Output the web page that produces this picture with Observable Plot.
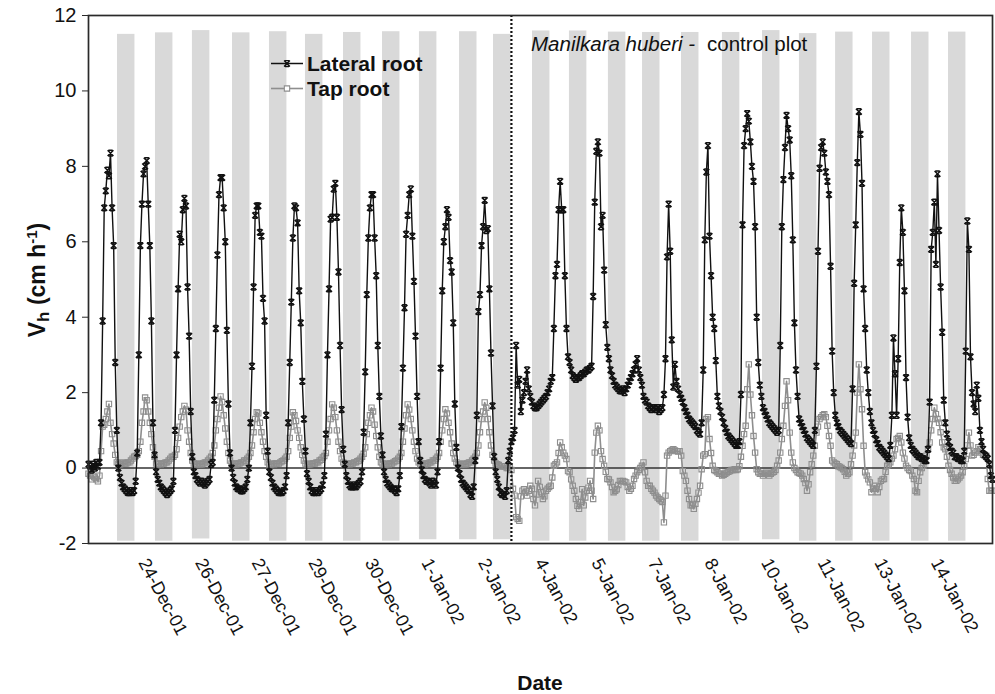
<!DOCTYPE html>
<html><head><meta charset="utf-8">
<script src="https://cdn.jsdelivr.net/npm/d3@7"></script>
<script src="https://cdn.jsdelivr.net/npm/@observablehq/plot@0.6"></script>
<style>
html,body{margin:0;padding:0;background:#fff;}
#chart{width:995px;height:694px;}
</style></head><body><div id="chart"></div>
<script>
// Hourly sap-flow velocity, hours since 23-Dec-01 00:00
const lateral = [
// 23-Dec
0.1,0.05,-0.05,0.1,0.0,0.15,0.05,0.15,1.2,3.9,6.9,7.35,7.9,7.75,8.35,6.9,5.9,2.8,1.0,0.0,-0.25,-0.4,-0.5,-0.55,
// 24-Dec
-0.6,-0.65,-0.65,-0.6,-0.65,-0.6,-0.35,0.4,3.0,5.9,7.0,7.8,8.0,8.15,7.0,5.9,3.9,1.2,0.35,-0.1,-0.3,-0.4,-0.5,-0.55,
// 25-Dec
-0.6,-0.65,-0.7,-0.65,-0.6,-0.55,-0.35,1.0,3.0,4.75,6.2,6.0,6.85,7.15,6.95,4.8,3.5,1.5,0.3,-0.1,-0.2,-0.3,-0.35,-0.4,
// 26-Dec
-0.35,-0.4,-0.45,-0.4,-0.35,-0.3,0.1,0.15,1.8,3.7,5.65,7.25,7.7,7.7,6.9,6.0,3.65,1.7,0.4,0.0,-0.25,-0.4,-0.5,-0.55,
// 27-Dec
-0.55,-0.6,-0.6,-0.55,-0.5,-0.3,0.0,1.2,2.7,4.8,6.7,6.95,6.95,6.25,6.15,4.5,3.9,1.4,0.45,-0.1,-0.25,-0.4,-0.5,-0.55,
// 28-Dec
-0.6,-0.65,-0.65,-0.65,-0.6,-0.5,-0.2,1.2,2.8,4.4,6.1,6.95,6.9,6.5,4.7,3.85,2.3,1.3,0.45,-0.15,-0.35,-0.5,-0.6,-0.65,
// 29-Dec
-0.65,-0.6,-0.65,-0.6,-0.55,-0.45,-0.2,0.9,3.0,4.75,6.6,6.65,7.4,7.55,6.65,5.2,3.25,1.55,0.5,0.1,-0.2,-0.35,-0.45,-0.5,
// 30-Dec
-0.5,-0.45,-0.5,-0.45,-0.4,-0.35,-0.1,0.95,2.55,4.6,6.1,6.9,7.25,7.25,6.1,5.1,3.25,1.9,0.85,0.35,-0.1,-0.3,-0.4,-0.45,
// 31-Dec
-0.5,-0.55,-0.55,-0.6,-0.65,-0.55,-0.2,1.1,2.65,4.25,6.2,6.7,7.25,7.4,6.15,4.95,3.5,1.9,0.7,0.2,-0.05,-0.2,-0.3,-0.35,
// 1-Jan
-0.35,-0.4,-0.45,-0.35,-0.4,-0.45,-0.1,0.7,2.65,4.7,6.0,6.4,6.85,6.65,5.5,5.2,3.85,1.7,0.55,0.0,-0.15,-0.3,-0.4,-0.45,
// 2-Jan
-0.5,-0.55,-0.6,-0.7,-0.75,-0.5,0.2,1.4,4.15,4.6,5.9,6.4,7.1,6.3,6.35,4.75,3.05,1.65,0.3,-0.1,-0.3,-0.5,-0.65,-0.7,
// 3-Jan
-0.7,-0.75,-0.6,0.2,0.45,0.7,0.8,1.0,3.25,2.2,2.35,1.5,1.8,2.0,2.3,2.6,2.1,1.9,1.75,1.65,1.6,1.6,1.65,1.7,
// 4-Jan
1.75,1.8,1.85,1.9,2.0,2.1,2.3,2.4,3.7,5.1,5.4,6.85,7.6,6.85,6.85,5.1,3.7,2.95,2.8,2.6,2.45,2.4,2.35,2.4,
// 5-Jan
2.4,2.45,2.5,2.5,2.55,2.6,2.6,2.65,2.7,4.55,7.05,8.4,8.65,8.35,6.4,6.7,5.25,3.8,3.2,2.9,2.6,2.45,2.3,2.2,
// 6-Jan
2.15,2.1,2.05,2.05,2.1,2.0,2.1,2.2,2.3,2.4,2.5,2.6,2.75,2.9,2.6,2.4,2.2,1.9,1.8,1.75,1.65,1.6,1.55,1.6,
// 7-Jan
1.6,1.55,1.6,1.5,1.55,1.6,1.95,2.9,5.6,7.0,5.75,3.4,2.15,2.75,2.3,2.1,1.95,1.85,1.75,1.6,1.5,1.4,1.3,1.25,
// 8-Jan
1.2,1.15,1.1,1.0,0.95,0.9,1.2,2.6,6.05,7.85,8.55,6.15,5.1,4.0,3.7,2.85,1.9,1.65,1.5,1.35,1.2,1.05,0.95,0.85,
// 9-Jan
0.8,0.75,0.7,0.65,0.6,0.6,0.7,1.95,6.45,8.55,9.0,9.4,9.2,8.65,8.0,7.6,6.4,4.0,2.8,2.2,1.9,1.6,1.5,1.4,
// 10-Jan
1.3,1.2,1.15,1.1,1.05,1.0,0.95,1.0,3.25,6.4,7.65,8.5,9.35,9.0,8.7,7.75,6.05,3.85,2.6,1.9,1.3,1.2,1.1,1.0,
// 11-Jan
0.9,0.8,0.75,0.7,0.65,0.6,1.0,2.7,5.75,7.95,8.5,8.65,8.35,7.85,7.6,7.25,5.35,3.1,2.0,1.4,1.2,1.1,1.0,0.95,
// 12-Jan
0.9,0.85,0.8,0.75,0.7,0.65,2.1,4.9,6.45,8.1,9.45,8.85,7.55,4.75,3.7,2.6,2.0,1.5,1.2,1.0,0.9,0.75,0.65,0.55,
// 13-Jan
0.5,0.45,0.4,0.35,0.3,0.25,0.6,1.4,3.45,2.5,1.4,2.9,5.45,6.9,6.25,4.7,2.4,1.35,0.8,0.6,0.5,0.45,0.4,0.35,
// 14-Jan
0.3,0.3,0.25,0.25,0.2,0.2,0.5,1.75,5.8,6.25,7.05,5.4,7.8,6.3,4.8,3.6,1.8,1.2,0.9,0.7,0.55,0.45,0.4,0.3,
// 15-Jan
0.3,0.25,0.25,0.2,0.2,0.45,3.1,6.55,5.8,2.95,2.0,1.7,1.5,2.2,1.85,1.0,0.7,0.5,0.35,0.3,0.25,0.1,-0.2,-0.3
];
const tap = [
// 23-Dec
-0.15,-0.2,-0.3,-0.2,-0.25,-0.3,-0.35,-0.2,0.45,1.1,1.15,1.3,1.5,1.7,1.2,0.9,0.65,0.35,0.15,0.1,0.1,0.12,0.15,0.12,
// 24-Dec
0.12,0.15,0.15,0.2,0.25,0.3,0.32,0.35,0.45,0.7,1.2,1.5,1.87,1.8,1.5,1.2,0.9,0.55,0.3,0.12,0.1,0.12,0.1,0.12,
// 25-Dec
0.12,0.15,0.15,0.2,0.25,0.3,0.3,0.35,0.5,0.8,1.1,1.35,1.5,1.65,1.55,1.0,0.7,0.4,0.2,0.12,0.1,0.1,0.12,0.1,
// 26-Dec
0.1,0.12,0.15,0.15,0.2,0.25,0.3,0.4,0.6,1.0,1.3,1.6,1.9,1.75,1.4,1.05,0.7,0.4,0.2,0.12,0.1,0.12,0.1,0.12,
// 27-Dec
0.12,0.15,0.15,0.2,0.2,0.25,0.3,0.4,0.6,0.95,1.3,1.48,1.45,1.2,0.95,0.7,0.45,0.3,0.15,0.1,0.1,0.12,0.1,0.12,
// 28-Dec
0.12,0.12,0.15,0.18,0.2,0.25,0.3,0.45,0.8,1.1,1.48,1.4,1.25,1.0,0.8,0.55,0.35,0.2,0.12,0.1,0.1,0.1,0.12,0.12,
// 29-Dec
0.12,0.15,0.15,0.2,0.22,0.28,0.32,0.4,0.7,1.0,1.3,1.69,1.6,1.35,1.0,0.7,0.45,0.25,0.15,0.1,0.1,0.12,0.1,0.12,
// 30-Dec
0.12,0.15,0.15,0.18,0.2,0.25,0.3,0.38,0.55,0.9,1.2,1.4,1.6,1.5,1.15,0.85,0.55,0.3,0.15,0.12,0.1,0.1,0.12,0.1,
// 31-Dec
0.12,0.12,0.15,0.18,0.2,0.25,0.3,0.4,0.7,1.05,1.4,1.69,1.55,1.3,1.0,0.7,0.45,0.25,0.15,0.1,0.1,0.12,0.1,0.12,
// 1-Jan
0.12,0.15,0.15,0.2,0.2,0.25,0.3,0.4,0.7,1.0,1.3,1.56,1.45,1.2,0.95,0.65,0.4,0.25,0.15,0.1,0.1,0.1,0.12,0.1,
// 2-Jan
0.1,0.12,0.15,0.15,0.2,0.25,0.3,0.4,0.6,0.95,1.3,1.5,1.74,1.6,1.3,0.95,0.6,0.35,0.2,0.12,0.1,0.08,0.05,0.05,
// 3-Jan
0.05,0.05,0.0,0.0,0.05,-0.05,-0.55,-0.73,-1.3,-1.35,-1.4,-0.75,-0.6,-0.56,-0.65,-0.73,-0.6,-0.47,-0.55,-0.82,-0.99,-0.7,-0.34,-0.5,
// 4-Jan
-0.64,-0.82,-0.75,-0.6,-0.55,-0.5,-0.47,-0.25,0.06,0.1,0.15,0.4,0.68,0.55,0.41,0.33,0.24,-0.08,-0.11,-0.3,-0.47,-0.6,-0.82,-1.0,
// 5-Jan
-1.08,-0.9,-0.56,-0.99,-0.78,-0.6,-0.52,-0.34,-0.6,-0.82,0.41,0.94,1.12,1.0,0.45,0.24,0.06,-0.1,-0.29,-0.3,-0.38,-0.5,-0.64,-0.6,
// 6-Jan
-0.56,-0.45,-0.34,-0.35,-0.34,-0.36,-0.38,-0.5,-0.6,-0.55,-0.47,-0.29,-0.2,-0.11,-0.05,0.0,0.06,0.15,-0.11,-0.34,-0.47,-0.47,-0.55,-0.6,
// 7-Jan
-0.65,-0.73,-0.78,-0.82,-0.86,-0.9,-1.44,-0.73,0.33,0.41,0.45,0.48,0.5,0.47,0.45,0.44,0.45,0.33,-0.08,-0.2,-0.34,-0.6,-0.82,-0.99,
// 8-Jan
-0.99,-1.08,-0.95,-0.82,-0.65,-0.47,-0.03,0.33,0.37,1.3,1.35,0.77,0.4,0.06,-0.05,-0.08,-0.11,-0.15,-0.15,-0.2,-0.18,-0.15,-0.12,-0.1,
// 9-Jan
-0.08,-0.05,-0.05,-0.03,-0.05,-0.03,0.05,0.3,0.59,0.9,1.12,2.09,2.75,1.95,1.4,0.85,0.41,-0.03,-0.11,-0.15,-0.15,-0.2,-0.15,-0.12,
// 10-Jan
-0.15,-0.2,-0.15,-0.12,-0.1,-0.05,0.06,0.2,0.41,0.77,1.12,1.65,2.3,1.8,0.94,0.41,0.15,0.0,-0.05,-0.11,-0.13,-0.15,-0.2,-0.29,
// 11-Jan
-0.4,-0.6,-0.43,-0.11,0.1,0.33,0.59,0.94,1.1,1.3,1.35,1.4,1.43,1.35,1.12,0.85,0.59,0.2,0.15,0.12,0.1,0.05,0.03,0.0,
// 12-Jan
-0.03,-0.1,-0.2,-0.15,-0.11,0.1,0.33,0.6,0.94,2.0,2.75,2.09,1.56,0.59,-0.11,-0.2,-0.3,-0.38,-0.64,-0.55,-0.47,-0.55,-0.64,-0.5,
// 13-Jan
-0.34,-0.3,-0.29,-0.1,0.06,0.1,0.15,0.25,0.33,0.5,0.77,0.8,0.85,0.68,0.41,0.25,0.06,0.0,-0.05,-0.08,-0.2,-0.29,-0.6,-0.64,
// 14-Jan
-0.34,-0.11,0.0,0.06,0.2,0.33,0.5,0.68,1.0,1.3,1.6,1.43,1.3,1.2,0.95,0.68,0.55,0.5,0.3,0.06,-0.05,-0.15,-0.25,-0.34,
// 15-Jan
-0.34,-0.3,-0.25,-0.2,-0.11,0.05,0.24,0.6,0.94,0.6,0.33,0.35,0.41,0.45,0.55,0.5,0.41,0.35,0.33,0.33,-0.29,-0.6,-0.6,-0.6
];
// Night periods (grey columns): start hour, top and bottom values
const nightStart = [18.45,42.6,66.1,91.6,115.1,138.0,162.2,187.0,210.5,236.0,257.6,282.4,305.9,330.7,352.4,377.2,403.2,428.7,452.2,475.2,498.7,523.5,547.0];
const nightTop = [11.5,11.54,11.6,11.54,11.57,11.5,11.55,11.57,11.57,11.57,11.5,11.59,11.59,11.56,11.55,11.55,11.55,11.6,11.52,11.56,11.56,11.56,11.56];
const nightBottom = [-1.94,-1.94,-1.88,-1.94,-1.94,-1.94,-1.94,-1.94,-1.9,-1.9,-1.9,-1.94,-1.94,-1.94,-1.94,-1.94,-1.94,-1.9,-1.94,-1.94,-1.94,-1.94,-1.94];
const nightLength = 11.1;
const treatmentHour = 269;
const xTickHours = [36,72,108,144,180,216,252,288,324,360,396,432,468,504,540];
const xTickLabels = ["24-Dec-01","26-Dec-01","27-Dec-01","29-Dec-01","30-Dec-01","1-Jan-02","2-Jan-02","4-Jan-02","5-Jan-02","7-Jan-02","8-Jan-02","10-Jan-02","11-Jan-02","13-Jan-02","14-Jan-02"];
const yTicks = [-2,0,2,4,6,8,10,12];

const rows = lateral.map((v, i) => ({h: i, lateral: v, tap: tap[i]}));
const nights = nightStart.map((s, i) => ({x1: s, x2: s + nightLength, y1: nightBottom[i], y2: nightTop[i]}));
const xticks = xTickHours.map((h, i) => ({h, label: xTickLabels[i]}));

const hourglass = {
  draw(ctx, size) {
    const s = Math.sqrt(size) / 2;
    ctx.moveTo(-s, -s); ctx.lineTo(s, s);
    ctx.moveTo(s, -s); ctx.lineTo(-s, s);
    ctx.moveTo(-s * 0.7, -s); ctx.lineTo(s * 0.7, -s);
    ctx.moveTo(-s * 0.7, s); ctx.lineTo(s * 0.7, s);
  }
};

const FONT = "Liberation Sans, Arial, Helvetica, sans-serif";
const plot = Plot.plot({
  width: 995, height: 694,
  marginLeft: 88, marginRight: 3, marginTop: 15, marginBottom: 151,
  style: {fontFamily: FONT, fontSize: "20px", color: "#111", background: "#fff"},
  x: {domain: [0, 575], axis: null},
  y: {domain: [-2, 12], axis: null},
  marks: [
    Plot.rect(nights, {x1: "x1", x2: "x2", y1: "y1", y2: "y2", fill: "#d9d9d9"}),
    Plot.ruleY([0], {stroke: "#333", strokeWidth: 1.6}),
    Plot.line(rows, {x: "h", y: "tap", stroke: "#8e8e8e", strokeWidth: 1.6}),
    Plot.dot(rows, {x: "h", y: "tap", symbol: "square", r: 3.0, stroke: "#8e8e8e", strokeWidth: 1.1, fill: "none"}),
    Plot.line(rows, {x: "h", y: "lateral", stroke: "#111", strokeWidth: 1.4}),
    Plot.dot(rows, {x: "h", y: "lateral", symbol: hourglass, r: 3.3, stroke: "#111", strokeWidth: 1.5, fill: "none"}),
    Plot.ruleX([treatmentHour], {stroke: "#111", strokeWidth: 2.2, strokeDasharray: "2,2"}),
    Plot.frame({stroke: "#2a2a2a", strokeWidth: 1.7}),
    Plot.axisY({ticks: yTicks, tickSize: 6, tickPadding: 6, fontSize: 20, tickFormat: d => String(d), stroke: "#2a2a2a"}),
    Plot.text(xticks, {x: "h", frameAnchor: "bottom", text: "label", rotate: 62, textAnchor: "start", dy: 19, dx: -7, fontSize: 18, fill: "#111"})
  ]
});
document.getElementById("chart").appendChild(plot);

// Titles, legend and annotation
const svg = d3.select(plot);
const yTitle = svg.append("text")
  .attr("transform", "translate(45,280) rotate(-90)")
  .attr("text-anchor", "middle")
  .attr("font-family", FONT).attr("font-weight", "bold").attr("font-size", 23).attr("fill", "#111");
yTitle.append("tspan").text("V");
yTitle.append("tspan").attr("font-size", 17).attr("dy", 4).text("h");
yTitle.append("tspan").attr("dy", -4).text(" (cm h");
yTitle.append("tspan").attr("font-size", 15).attr("dy", -8).text("-1");
yTitle.append("tspan").attr("dy", 8).text(")");

svg.append("text").attr("x", 540).attr("y", 690).attr("text-anchor", "middle")
  .attr("font-family", FONT).attr("font-weight", "bold").attr("font-size", 21).attr("fill", "#111").text("Date");

const leg = svg.append("g").attr("font-family", FONT).attr("font-weight", "bold").attr("font-size", 21).attr("fill", "#111").attr("text-anchor", "start");
leg.append("line").attr("x1", 271).attr("x2", 303).attr("y1", 63.5).attr("y2", 63.5).attr("stroke", "#111").attr("stroke-width", 1.5);
leg.append("path").attr("transform", "translate(287,63.5)").attr("d", d3.symbol(hourglass, 3.3 * 3.3 * Math.PI)()).attr("stroke", "#111").attr("stroke-width", 1.4).attr("fill", "none");
leg.append("text").attr("x", 307).attr("y", 71).text("Lateral root");
leg.append("line").attr("x1", 271).attr("x2", 303).attr("y1", 88.5).attr("y2", 88.5).attr("stroke", "#8e8e8e").attr("stroke-width", 1.6);
leg.append("path").attr("transform", "translate(287,88.5)").attr("d", d3.symbol(d3.symbolSquare, 3.0 * 3.0 * Math.PI)()).attr("stroke", "#8e8e8e").attr("stroke-width", 1.1).attr("fill", "#fff");
leg.append("text").attr("x", 307).attr("y", 96).text("Tap root");

const ann = svg.append("g").attr("font-family", FONT).attr("font-size", 20.5).attr("fill", "#111").attr("text-anchor", "start");
ann.append("text").attr("x", 531).attr("y", 51).attr("font-style", "italic").text("Manilkara huberi -");
ann.append("text").attr("x", 707).attr("y", 51).text("control plot");
</script>
</body></html>
